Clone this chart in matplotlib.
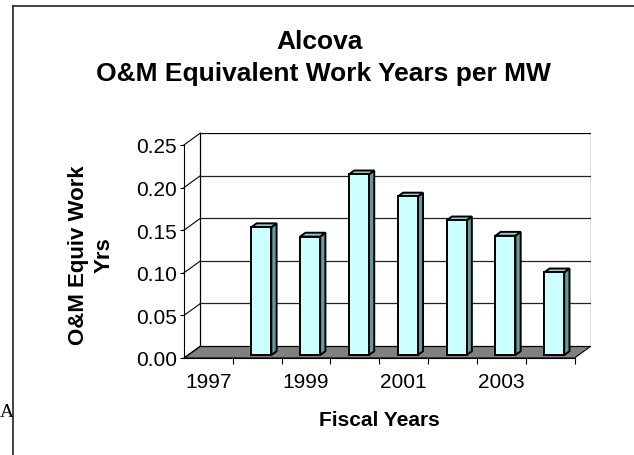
import numpy as np
import matplotlib
matplotlib.use("Agg")
import matplotlib.pyplot as plt
from matplotlib.patches import Polygon, Rectangle
from matplotlib.lines import Line2D

# data (1997 has no bar)
years = ["1997", "1998", "1999", "2000", "2001", "2002", "2003", "2004"]
values = [np.nan, 0.150, 0.139, 0.212, 0.186, 0.158, 0.140, 0.097]
yticks = [0.00, 0.05, 0.10, 0.15, 0.20, 0.25]
shown_years = ["1997", "1999", "2001", "2003"]

plt.rcParams["font.family"] = ["Liberation Sans", "DejaVu Sans"]

W, H = 634, 456
fig = plt.figure(figsize=(W / 100, H / 100), dpi=100)

# plot area in pixels: front axis 184..575, back wall to 591 / 134
ax = fig.add_axes([184 / W, 1 - 359 / H, (591 - 184) / W, (359 - 134) / H])
n = len(years)
DX = 16.5 / 48.875     # depth shift, category units
DY = 0.014             # depth shift, value units
ax.set_xlim(0, n + DX)
ax.set_ylim(0, 0.25 + DY)

# floor, back wall, grid
ax.add_patch(Polygon([(0, 0), (n, 0), (n + DX, DY), (DX, DY)],
                     closed=True, facecolor="#808080", edgecolor="black", lw=0.8, zorder=1))
ax.add_patch(Rectangle((DX, DY), n, yticks[-1], facecolor="white",
                       edgecolor="black", lw=0.9, zorder=1))
for t in yticks[1:-1]:
    ax.plot([DX, n + DX], [t + DY, t + DY], color="#222222", lw=0.9, zorder=2)
for t in yticks:
    ax.plot([0, DX], [t, t + DY], color="black", lw=0.8, zorder=2, clip_on=False)

# 3d bars
f0, d = 0.25, 0.32
bw = 20 / 48.875
x = np.arange(n) + 0.5 + f0 * DX
base = f0 * DY
ax.bar(x, values, width=bw, bottom=base, color="#CCFFFF",
       edgecolor="black", lw=1.4, zorder=4)
for xi, v in zip(x, values):
    if np.isnan(v):
        continue
    xl, xr, top = xi - bw / 2, xi + bw / 2, base + v
    ax.add_patch(Polygon([(xr, base), (xr + d * DX, base + d * DY),
                          (xr + d * DX, top + d * DY), (xr, top)],
                         closed=True, facecolor="#669999", edgecolor="black", lw=1.4, zorder=3))
    ax.add_patch(Polygon([(xl, top), (xr, top), (xr + d * DX, top + d * DY),
                          (xl + d * DX, top + d * DY)],
                         closed=True, facecolor="#99CCCC", edgecolor="black", lw=1.4, zorder=3))

# axes
for s in ["top", "right"]:
    ax.spines[s].set_visible(False)
ax.spines["left"].set_bounds(0, yticks[-1])
ax.spines["bottom"].set_bounds(0, n)
ax.spines["left"].set_linewidth(0.8)
ax.spines["bottom"].set_linewidth(0.8)
ax.spines["left"].set_zorder(5)
ax.spines["bottom"].set_zorder(5)

ax.set_yticks(yticks)
ax.set_yticklabels([f"{t:.2f}" for t in yticks], fontsize=15)
ax.tick_params(axis="y", direction="out", length=3, width=0.8, pad=2)

ax.set_xticks(np.arange(1, n + 1))
ax.set_xticklabels([])
ax.set_xticks([years.index(y) + 0.5 for y in shown_years], minor=True)
ax.set_xticklabels(shown_years, minor=True, fontsize=15)
ax.tick_params(axis="x", which="major", direction="out", length=4, width=0.8)
ax.tick_params(axis="x", which="minor", length=0, pad=10)

# titles / labels
fig.text(320 / W, 1 - 42 / H, "Alcova", ha="center", va="center",
         fontsize=19, fontweight="bold")
fig.text(323 / W, 1 - 74 / H, "O&M Equivalent Work Years per MW", ha="center",
         va="center", fontsize=19, fontweight="bold")
fig.text(91 / W, 1 - 255 / H, "O&M Equiv Work\nYrs", rotation=90, ha="center",
         va="center", multialignment="center", fontsize=16, fontweight="bold",
         linespacing=1.3)
fig.text(379 / W, 1 - 421 / H, "Fiscal Years", ha="center", va="center",
         fontsize=15, fontweight="bold")

# stray letter and frame border
fig.text(0, 1 - 413 / H, "A", ha="left", va="center", fontsize=14,
         family=["Liberation Serif", "DejaVu Serif"])
fig.add_artist(Line2D([13 / W, 13 / W], [0, 1 - 7 / H], color="#222222", lw=1.2))
fig.add_artist(Line2D([13 / W, 1], [1 - 7 / H, 1 - 7 / H], color="#222222", lw=1.2))

fig.savefig("out.png", dpi=100)
